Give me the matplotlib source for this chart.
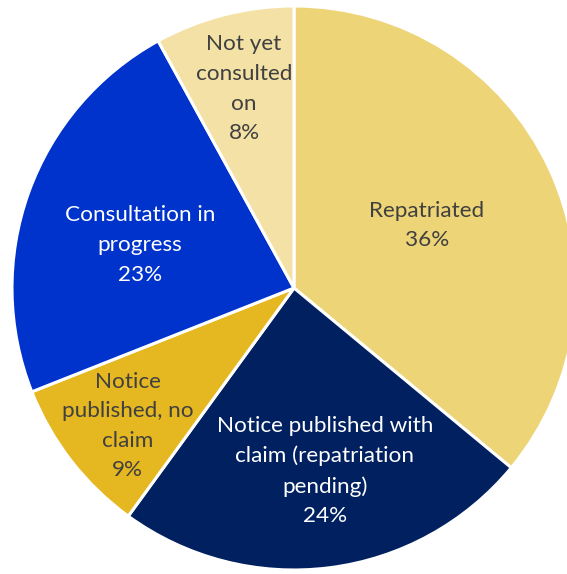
import matplotlib
matplotlib.use("Agg")
import matplotlib.pyplot as plt
import numpy as np

categories = ["Repatriated", "Notice published with\nclaim (repatriation\npending)",
              "Notice\npublished, no\nclaim", "Consultation in\nprogress", "Not yet\nconsulted\non"]
values = [36, 24, 9, 23, 8]
colors = ["#EDD477", "#002060", "#E5B821", "#0033CC", "#F3E1A6"]
text_colors = ["#404040", "white", "#404040", "white", "#404040"]
label_radius = [0.52, 0.658, 0.766, 0.567, 0.728]
label_angle_shift = [0.0, 2.4, 1.9, 4.2, -0.3]

W, H = 567, 574
fig = plt.figure(figsize=(W / 100, H / 100), dpi=100)
cx, cy, r = 294, 288, 282
ax = fig.add_axes([(cx - r) / W, (H - cy - r) / H, 2 * r / W, 2 * r / H])
ax.axis("off")

wedges, _ = ax.pie(values, colors=colors, startangle=90, counterclock=False,
                   radius=1, wedgeprops=dict(edgecolor="white", linewidth=2.2))
ax.set_xlim(-1, 1)
ax.set_ylim(-1, 1)
ax.set_aspect("auto")

for w, cat, v, tc, lr, da in zip(wedges, categories, values, text_colors,
                                 label_radius, label_angle_shift):
    ang = np.deg2rad((w.theta1 + w.theta2) / 2 + da)
    x, y = lr * np.cos(ang), lr * np.sin(ang)
    ax.text(x, y, f"{cat}\n{v}%", ha="center", va="center", color=tc,
            fontsize=16.2, family="Lato", linespacing=1.6)

fig.savefig("out.png", dpi=100)
